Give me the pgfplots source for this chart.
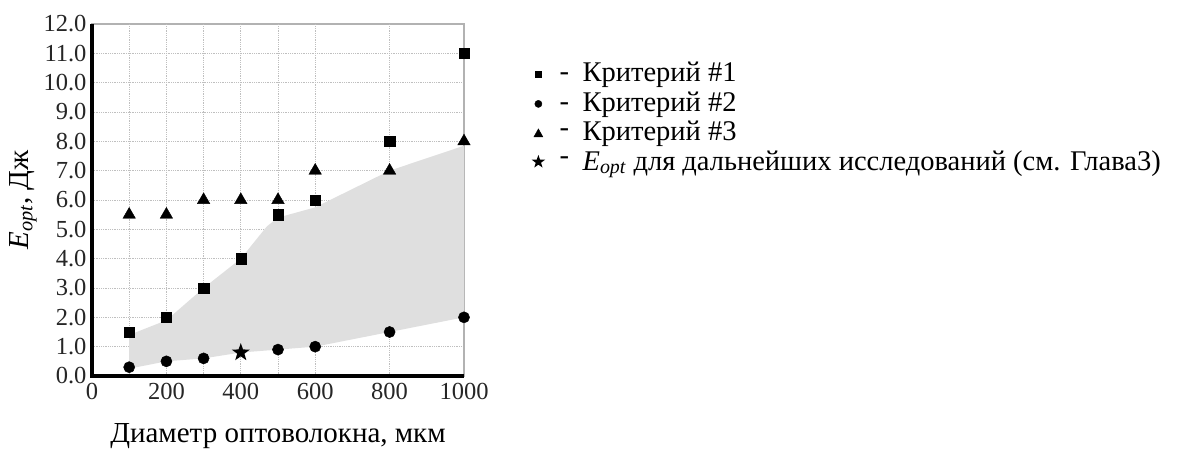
\documentclass[border=0pt]{standalone}
\usepackage{fontspec}
\setmainfont{Liberation Serif}
\usepackage{pgfplots}
\pgfplotsset{compat=1.18}
\pgfdeclareplotmark{fstar}{%
  \pgfpathmoveto{\pgfpointpolar{90}{\pgfplotmarksize}}%
  \pgfpathlineto{\pgfpointpolar{126}{0.4\pgfplotmarksize}}%
  \pgfpathlineto{\pgfpointpolar{162}{\pgfplotmarksize}}%
  \pgfpathlineto{\pgfpointpolar{198}{0.4\pgfplotmarksize}}%
  \pgfpathlineto{\pgfpointpolar{234}{\pgfplotmarksize}}%
  \pgfpathlineto{\pgfpointpolar{270}{0.4\pgfplotmarksize}}%
  \pgfpathlineto{\pgfpointpolar{306}{\pgfplotmarksize}}%
  \pgfpathlineto{\pgfpointpolar{342}{0.4\pgfplotmarksize}}%
  \pgfpathlineto{\pgfpointpolar{18}{\pgfplotmarksize}}%
  \pgfpathlineto{\pgfpointpolar{54}{0.4\pgfplotmarksize}}%
  \pgfpathclose
  \pgfusepathqfill}
\newcommand{\lfont}{\fontsize{28.5}{32}\selectfont}
\tikzset{legdash/.style={inner sep=0pt, text height={}, text depth={}, font=\lfont}}
\begin{document}
\begin{tikzpicture}[x=1pt,y=1pt]
\path[use as bounding box] (0,0) rectangle (1184,450);
\begin{axis}[
  at={(92pt,74pt)}, anchor=south west,
  scale only axis, width=372pt, height=352pt,
  xmin=0, xmax=1000, ymin=0, ymax=12,
  clip=false,
  xtick={0,200,400,600,800,1000},
  ytick={0,1,...,12},
  extra x ticks={100,200,300,400,500,600,800},
  extra x tick labels={},
  extra x tick style={grid=major, major tick length=0pt},
  ymajorgrids=true,
  major grid style={draw=gray!50, line width=0.8pt, densely dotted},
  major tick length=0pt,
  axis line style={draw=gray!60, line width=1.2pt},
  /pgf/number format/assume math mode=true,
  /pgf/number format/1000 sep={},
  yticklabel style={/pgf/number format/fixed, /pgf/number format/fixed zerofill, /pgf/number format/precision=1, xshift=-2pt},
  tick label style={font=\fontsize{24.5}{28}\selectfont, text=black!85},
  xticklabel style={yshift=-4pt},
  xlabel={Диаметр оптоволокна, мкм},
  ylabel={\textit{E}\textsubscript{\textit{opt}}, Дж},
  label style={font=\fontsize{29}{34}\selectfont},
  xlabel style={at={(0.5,-0.1875)}, anchor=base},
  ylabel style={at={(-0.185,0.5)}, anchor=center, rotate=0},
  legend style={at={(1.1735,0.905)}, anchor=north west, draw=none, fill=none,
    font=\lfont, row sep=0pt,
    nodes={inner sep=2pt, font=\lfont, text height=20pt, text depth=5.5pt}},
  legend cell align=left,
]
\addplot[fill=gray!25, draw=none, forget plot] coordinates {
(100,1.4)(200,1.9)(300,3.0)(400,4.0)(470,5.1)(500,5.4)(600,5.75)(800,7.0)(1000,7.85)
(1000,2.0)(800,1.5)(600,1.0)(500,0.9)(400,0.8)(300,0.6)(200,0.5)(100,0.25)} -- cycle;
\addplot[only marks, mark=square*, mark size=5.1pt, black,
  legend image code/.code={\path (0pt,0pt) (47pt,0pt); \fill[black] (2pt,-3pt) rectangle (8pt,3pt); \node[legdash] at (26pt,-2.5pt) {-};}]
  coordinates {(100,1.5)(200,2.0)(300,3.0)(400,4.0)(500,5.5)(600,6.0)(800,8.0)(1000,11.0)};
\addlegendentry{Критерий \#1}
\addplot[only marks, mark=*, mark size=5.6pt, black,
  legend image code/.code={\path (0pt,0pt) (47pt,0pt); \fill[black] (5pt,0pt) circle (3.6pt); \node[legdash] at (26pt,-2.5pt) {-};}]
  coordinates {(100,0.3)(200,0.5)(300,0.6)(500,0.9)(600,1.0)(800,1.5)(1000,2.0)};
\addlegendentry{Критерий \#2}
\addplot[only marks, mark=triangle*, mark size=7.2pt, black,
  legend image code/.code={\path (0pt,0pt) (47pt,0pt); \fill[black] (0.5pt,-3.5pt) -- (9.5pt,-3.5pt) -- (5pt,4.5pt) -- cycle; \node[legdash] at (26pt,1pt) {-};}]
  coordinates {(100,5.5)(200,5.5)(300,6.0)(400,6.0)(500,6.0)(600,7.0)(800,7.0)(1000,8.0)};
\addlegendentry{Критерий \#3}
\addplot[only marks, mark=fstar, mark size=9.5pt, black,
  legend image code/.code={\path (0pt,0pt) (47pt,0pt); \fill[black] plot[mark=fstar, mark size=7pt] coordinates {(5pt,1pt)}; \node[legdash] at (26pt,2pt) {-};}]
  coordinates {(400,0.8)};
\addlegendentry{\textit{E}\textsubscript{\textit{opt}} для дальнейших исследований (см. Глава3)}
\draw[line width=3.5pt, black] (rel axis cs:0,1) -- (rel axis cs:0,0) -- (rel axis cs:1,0);
\end{axis}
\end{tikzpicture}
\end{document}
